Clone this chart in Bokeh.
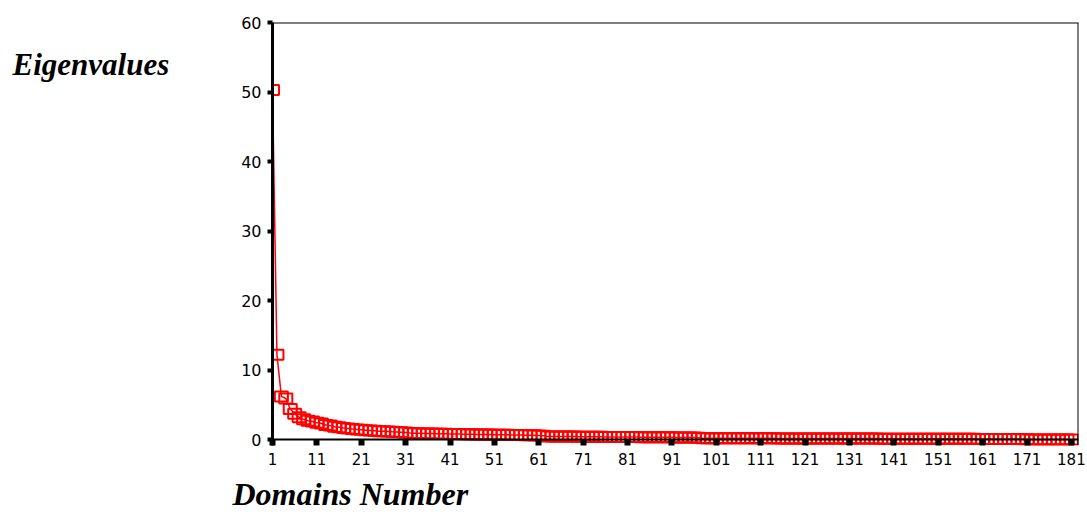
from bokeh.plotting import figure
from bokeh.models import Range1d, FixedTicker, Span, Label, Title
from bokeh.layouts import row
from bokeh.embed import file_html
from bokeh.resources import INLINE

# ---- data ----
domains = list(range(1, 182))
eigenvalues = [
    50.3, 12.2, 6.2, 5.9, 4.4, 3.7, 3.2, 2.9, 2.7, 2.6,          # 1-10
    2.4, 2.3, 2.1, 2.0, 1.85, 1.75, 1.65, 1.6, 1.5, 1.45,        # 11-20
    1.4, 1.35, 1.3, 1.25, 1.2, 1.18, 1.15, 1.12, 1.1, 1.05,      # 21-30
    1.0, 0.95, 0.92, 0.9, 0.88, 0.86, 0.85, 0.84, 0.83, 0.82,    # 31-40
    0.8, 0.79, 0.78, 0.77, 0.76, 0.75, 0.74, 0.73, 0.72, 0.71,   # 41-50
    0.7, 0.69, 0.68, 0.67, 0.66, 0.65, 0.64, 0.63, 0.62, 0.6,    # 51-60
    0.58, 0.55, 0.45, 0.44, 0.44, 0.43, 0.43, 0.42, 0.42, 0.41,  # 61-70
    0.41, 0.4, 0.4, 0.39, 0.39, 0.38, 0.38, 0.37, 0.37, 0.36,    # 71-80
    0.36, 0.35, 0.35, 0.34, 0.34, 0.33, 0.33, 0.32, 0.32, 0.31,  # 81-90
    0.31, 0.3, 0.3, 0.29, 0.29, 0.28, 0.27, 0.2, 0.2, 0.2,       # 91-100
    0.19, 0.19, 0.19, 0.19, 0.18, 0.18, 0.18, 0.18, 0.18, 0.17,  # 101-110
    0.17, 0.17, 0.17, 0.17, 0.16, 0.16, 0.16, 0.16, 0.16, 0.15,  # 111-120
    0.15, 0.15, 0.15, 0.15, 0.15, 0.14, 0.14, 0.14, 0.14, 0.14,  # 121-130
    0.14, 0.13, 0.13, 0.13, 0.13, 0.13, 0.13, 0.12, 0.12, 0.12,  # 131-140
    0.12, 0.12, 0.12, 0.12, 0.11, 0.11, 0.11, 0.11, 0.11, 0.11,  # 141-150
    0.11, 0.1, 0.1, 0.1, 0.1, 0.1, 0.1, 0.1, 0.1, 0.09,          # 151-160
    0.09, 0.09, 0.09, 0.09, 0.09, 0.09, 0.08, 0.08, 0.08,        # 161-169
    0.03, 0.03, 0.02, 0.02, 0.02, 0.01, 0.01, 0.01, 0.01, 0.0, 0.0, 0.0,  # 170-181
]
x_ticks = [1, 11, 21, 31, 41, 51, 61, 71, 81, 91, 101, 111, 121, 131, 141, 151, 161, 171, 181]
y_ticks = [0, 10, 20, 30, 40, 50, 60]
y_title = "Eigenvalues"
x_title = "Domains Number"

H = 519

# ---- left strip holding the y title ----
side = figure(width=230, height=H, x_range=Range1d(0, 230), y_range=Range1d(0, H),
              x_axis_type=None, y_axis_type=None, min_border=0,
              output_backend="svg", toolbar_location=None)
side.grid.visible = False
side.outline_line_color = None
side.add_layout(Label(x=12, y=H - 51, text=y_title,
                      text_font="Liberation Serif", text_font_style="bold italic",
                      text_font_size="31px", text_color="black", text_baseline="alphabetic"))

# ---- main chart ----
p = figure(
    width=857, height=H,
    x_range=Range1d(1, 182.6), y_range=Range1d(-0.86, 60),
    output_backend="svg", toolbar_location=None,
    min_border_left=42, min_border_right=9, min_border_top=22, min_border_bottom=H - 445,
)
p.grid.visible = False
p.outline_line_color = None
p.background_fill_color = "white"
p.border_fill_color = "white"

# y axis
ya = p.yaxis[0]
ya.ticker = FixedTicker(ticks=y_ticks)
ya.axis_line_color = "black"
ya.axis_line_width = 3
ya.major_tick_out = 5
ya.major_tick_in = 0
ya.major_tick_line_width = 4
ya.major_tick_line_color = "black"
ya.minor_tick_line_color = None
ya.major_label_text_font = "DejaVu Sans"
ya.major_label_text_font_size = "16px"
ya.major_label_text_color = "black"
ya.major_label_standoff = 6

# x axis
xa = p.xaxis[0]
xa.ticker = FixedTicker(ticks=x_ticks)
xa.axis_line_color = None
xa.major_tick_in = 6
xa.major_tick_out = 0
xa.major_tick_line_width = 6
xa.major_tick_line_color = "black"
xa.minor_tick_line_color = None
xa.major_label_text_font = "DejaVu Sans"
xa.major_label_text_font_size = "15px"
xa.major_label_text_color = "black"
xa.major_label_standoff = 7

# data
p.line(domains, eigenvalues, line_color="red", line_width=1.5)
p.rect(domains, eigenvalues, width=13, height=10, width_units="screen", height_units="screen",
       fill_color=None, line_color="red", line_width=2)

# frame lines
p.add_layout(Span(location=0, dimension="width", line_color="black", line_width=2))
p.add_layout(Span(location=60, dimension="width", line_color="black", line_width=2))
p.add_layout(Span(location=182.6, dimension="height", line_color="black", line_width=2))

# x title
p.add_layout(Title(text=x_title, align="left", offset=-40, standoff=13,
                   text_font="Liberation Serif", text_font_style="bold italic",
                   text_font_size="32px", text_color="black"), "below")

open("out.html", "w").write(file_html(row(side, p), INLINE))
